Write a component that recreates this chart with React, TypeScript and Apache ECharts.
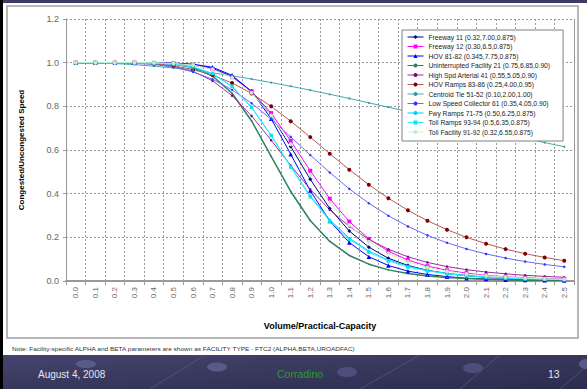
import React, { useEffect, useRef } from 'react';
import * as echarts from 'echarts';

const xLabels = ['0.0','0.1','0.2','0.3','0.4','0.5','0.6','0.7','0.8','0.9','1.0','1.1','1.2','1.3','1.4','1.5','1.6','1.7','1.8','1.9','2.0','2.1','2.2','2.3','2.4','2.5'];

const freeway11 = [1.000,1.000,1.000,1.000,0.999,0.998,0.991,0.974,0.937,0.867,0.758,0.616,0.466,0.332,0.229,0.155,0.104,0.071,0.049,0.034,0.024,0.017,0.012,0.009,0.007,0.005];
const freeway12 = [1.000,1.000,1.000,1.000,0.999,0.997,0.989,0.971,0.934,0.869,0.769,0.642,0.505,0.377,0.272,0.193,0.136,0.096,0.068,0.049,0.036,0.026,0.019,0.015,0.011,0.009];
const hov8182 = [1.000,1.000,1.000,1.000,1.000,0.998,0.993,0.979,0.942,0.868,0.743,0.581,0.414,0.275,0.176,0.111,0.071,0.045,0.030,0.020,0.013,0.009,0.006,0.005,0.003,0.002];
const uninterrupted21 = [1.000,1.000,1.000,1.000,0.999,0.994,0.978,0.939,0.860,0.733,0.571,0.410,0.277,0.181,0.117,0.077,0.051,0.034,0.023,0.016,0.011,0.008,0.006,0.004,0.003,0.002];
const highSpd41 = [1.000,1.000,1.000,0.999,0.995,0.984,0.960,0.917,0.849,0.756,0.645,0.529,0.420,0.326,0.250,0.190,0.145,0.111,0.085,0.066,0.052,0.041,0.033,0.026,0.021,0.017];
const hovRamps = [1.000,1.000,1.000,0.998,0.994,0.985,0.969,0.943,0.907,0.859,0.800,0.732,0.659,0.583,0.510,0.441,0.379,0.324,0.276,0.235,0.200,0.171,0.146,0.125,0.108,0.093];
const centroidTie = [1.000,0.999,0.996,0.991,0.984,0.976,0.965,0.953,0.940,0.925,0.909,0.892,0.874,0.855,0.836,0.816,0.796,0.776,0.755,0.735,0.714,0.694,0.674,0.654,0.634,0.615];
const lowSpeed61 = [1.000,1.000,0.999,0.997,0.992,0.979,0.958,0.924,0.876,0.814,0.741,0.660,0.577,0.497,0.422,0.356,0.299,0.250,0.209,0.175,0.147,0.124,0.105,0.089,0.076,0.065];
const fwyRamps = [1.000,1.000,1.000,1.000,0.998,0.993,0.980,0.949,0.890,0.794,0.667,0.524,0.390,0.280,0.196,0.137,0.096,0.068,0.048,0.035,0.026,0.019,0.014,0.011,0.008,0.006];
const tollRamps = [1.000,1.000,1.000,1.000,0.999,0.994,0.981,0.951,0.892,0.796,0.667,0.522,0.386,0.274,0.191,0.132,0.092,0.064,0.046,0.033,0.024,0.018,0.013,0.010,0.008,0.006];
const tollFacility = [1.000,1.000,1.000,1.000,0.999,0.997,0.989,0.970,0.931,0.862,0.758,0.626,0.486,0.359,0.256,0.180,0.126,0.088,0.062,0.045,0.032,0.024,0.018,0.013,0.010,0.008];

const seriesNames = [
  'Freeway 11 (0.32,7.00,0.875)',
  'Freeway 12 (0.30,6.5,0.875)',
  'HOV 81-82 (0.345,7.75,0.875)',
  'Uninterrupted Facility 21 (0.75,6.85,0.90)',
  'High Spd Arterial 41 (0.55,5.05,0.90)',
  'HOV Ramps 83-86 (0.25,4.00,0.95)',
  'Centroid Tie 51-52 (0.10,2.00,1.00)',
  'Low Speed Collector 61 (0.35,4.05,0.90)',
  'Fwy Ramps 71-75 (0.50,6.25,0.875)',
  'Toll Ramps 93-94 (0.5,6.35,0.875)',
  'Toll Facility 91-92 (0.32,6.55,0.875)',
];

const FONT = '"Liberation Sans", Arial, sans-serif';

function lineSeries(name: string, data: number[], color: string, symbol: string, size: number, lineColor?: string, width = 1) {
  return {
    type: 'line',
    name,
    data,
    symbol,
    symbolSize: size,
    showSymbol: symbol !== 'none',
    lineStyle: { color: lineColor || color, width },
    itemStyle: { color },
    emphasis: { disabled: true },
    silent: true,
  };
}

export default function App() {
  const ref = useRef<HTMLDivElement>(null);
  useEffect(() => {
    const chart = echarts.init(ref.current!, null, { renderer: 'svg' });
    const option: any = {
      animation: false,
      backgroundColor: '#ffffff',
      textStyle: { fontFamily: FONT },
      grid: { left: 66, right: 13, top: 19, bottom: 108, containLabel: false },
      legend: {
        data: seriesNames,
        orient: 'vertical',
        left: 402,
        top: 30,
        itemWidth: 16,
        itemHeight: 5,
        itemGap: 1.5,
        selectedMode: false,
        backgroundColor: '#ffffff',
        borderColor: '#808080',
        borderWidth: 1,
        borderRadius: 0,
        padding: [3, 13, 5, 5],
        lineStyle: { width: 1 },
        itemStyle: { borderWidth: 0 },
        textStyle: { fontSize: 6.7, color: '#222', fontFamily: FONT, lineHeight: 8 },
      },
      xAxis: {
        type: 'category',
        data: xLabels,
        boundaryGap: true,
        name: 'Volume/Practical-Capacity',
        nameLocation: 'middle',
        nameGap: 40,
        nameTextStyle: { fontWeight: 'bold', fontSize: 9, color: '#000', fontFamily: FONT },
        axisLine: { lineStyle: { color: '#999', width: 2 } },
        axisTick: { show: true, interval: 0, length: 4, lineStyle: { color: '#999' } },
        axisLabel: { interval: 0, rotate: 90, fontSize: 8, color: '#666', margin: 6 },
        splitLine: { show: true, interval: 0, lineStyle: { color: '#999', type: [2, 2], width: 1 } },
      },
      yAxis: {
        type: 'value',
        min: 0,
        max: 1.2,
        interval: 0.2,
        name: 'Congested/Uncongested Speed',
        nameLocation: 'middle',
        nameGap: 41,
        nameTextStyle: { fontWeight: 'bold', fontSize: 8, color: '#000', fontFamily: FONT },
        axisLine: { show: true, lineStyle: { color: '#999', width: 1 } },
        axisTick: { show: true, length: 3, lineStyle: { color: '#999' } },
        axisLabel: { fontSize: 9, color: '#666', margin: 7, formatter: (v: number) => v.toFixed(1) },
        splitLine: { show: true, lineStyle: { color: '#999', type: [2, 2], width: 1 } },
      },
      series: [
        lineSeries(seriesNames[0], freeway11, '#000080', 'diamond', 4),
        lineSeries(seriesNames[1], freeway12, '#ff00ff', 'rect', 4),
        lineSeries(seriesNames[2], hov8182, '#0000ff', 'triangle', 4.5),
        lineSeries(seriesNames[3], uninterrupted21, '#2e8060', 'circle', 1.5, '#2e8060', 1.5),
        lineSeries(seriesNames[4], highSpd41, '#800080', 'circle', 2.5, '#993399'),
        lineSeries(seriesNames[5], hovRamps, '#800000', 'circle', 4, '#b85858'),
        lineSeries(seriesNames[6], centroidTie, '#339999', 'circle', 2, '#44aaaa'),
        lineSeries(seriesNames[7], lowSpeed61, '#3333ff', 'circle', 2.5, '#6a6aff'),
        lineSeries(seriesNames[8], fwyRamps, '#00ccff', 'circle', 2.5),
        lineSeries(seriesNames[9], tollRamps, '#00e8f0', 'rect', 3.5, '#33eeff'),
        lineSeries(seriesNames[10], tollFacility, '#bff0bf', 'circle', 4, '#c8f5c8'),
      ],
      graphic: [
        { type: 'rect', z: -1, shape: { x: 7, y: 6, width: 571, height: 332 }, style: { fill: 'none', stroke: '#a0a0a0', lineWidth: 1.5 } },
        { type: 'line', z: 5, shape: { x1: 574.5, y1: 19, x2: 574.5, y2: 281 }, style: { stroke: '#999', lineWidth: 1 } },
        {
          type: 'text', z: 5, x: 12, y: 349, scaleX: 1.3,
          style: { text: 'Note: Facility-specific ALPHA and BETA parameters are shown as FACILITY TYPE - FTC2 (ALPHA,BETA,UROADFAC)', fontSize: 5, fill: '#333', fontFamily: FONT, verticalAlign: 'middle' },
        },
        {
          type: 'rect', z: 5, shape: { x: 0, y: 355, width: 587, height: 34 },
          style: { fill: { type: 'linear', x: 0, y: 0, x2: 1, y2: 1, colorStops: [{ offset: 0, color: '#44446e' }, { offset: 1, color: '#2c2c4c' }] } },
        },
        { type: 'line', z: 6, shape: { x1: 150, y1: 389, x2: 205, y2: 355 }, style: { stroke: '#55557e', lineWidth: 0.8 } },
        { type: 'line', z: 6, shape: { x1: 360, y1: 389, x2: 420, y2: 355 }, style: { stroke: '#55557e', lineWidth: 0.8 } },
        { type: 'line', z: 6, shape: { x1: 460, y1: 389, x2: 500, y2: 355 }, style: { stroke: '#55557e', lineWidth: 0.8 } },
        { type: 'line', z: 6, shape: { x1: 560, y1: 389, x2: 587, y2: 366 }, style: { stroke: '#55557e', lineWidth: 0.8 } },
        { type: 'ellipse', z: 6, shape: { cx: 86, cy: 364, rx: 10, ry: 4 }, style: { fill: '#5a5a88' } },
        { type: 'ellipse', z: 6, shape: { cx: 217, cy: 367, rx: 10, ry: 4.5 }, style: { fill: '#5a5a88' } },
        { type: 'ellipse', z: 6, shape: { cx: 347, cy: 372, rx: 10, ry: 5 }, style: { fill: '#4e4e7c' } },
        { type: 'ellipse', z: 6, shape: { cx: 473, cy: 368, rx: 10, ry: 5 }, style: { fill: '#4e4e7c' } },
        { type: 'ellipse', z: 6, shape: { cx: 586, cy: 364, rx: 7, ry: 5 }, style: { fill: '#5a5a88' } },
        { type: 'text', z: 7, x: 38, y: 374, style: { text: 'August 4, 2008', fontSize: 10, fill: '#e4e4ee', fontFamily: FONT, verticalAlign: 'middle' } },
        { type: 'text', z: 7, x: 277, y: 374, style: { text: 'Corradino', fontSize: 10.5, fill: '#2e9a2e', fontFamily: FONT, verticalAlign: 'middle' } },
        { type: 'text', z: 7, x: 548, y: 374, style: { text: '13', fontSize: 10.5, fill: '#e4e4ee', fontFamily: FONT, verticalAlign: 'middle' } },
        { type: 'rect', z: 8, shape: { x: 0, y: 0, width: 587, height: 3 }, style: { fill: '#3c3c66' } },
        { type: 'rect', z: 8, shape: { x: 0, y: 0, width: 3, height: 389 }, style: { fill: '#000000' } },
      ],
    };
    chart.setOption(option);
    return () => chart.dispose();
  }, []);
  return <div ref={ref} style={{ position: 'absolute', left: 0, top: 0, width: 587, height: 389 }} />;
}
